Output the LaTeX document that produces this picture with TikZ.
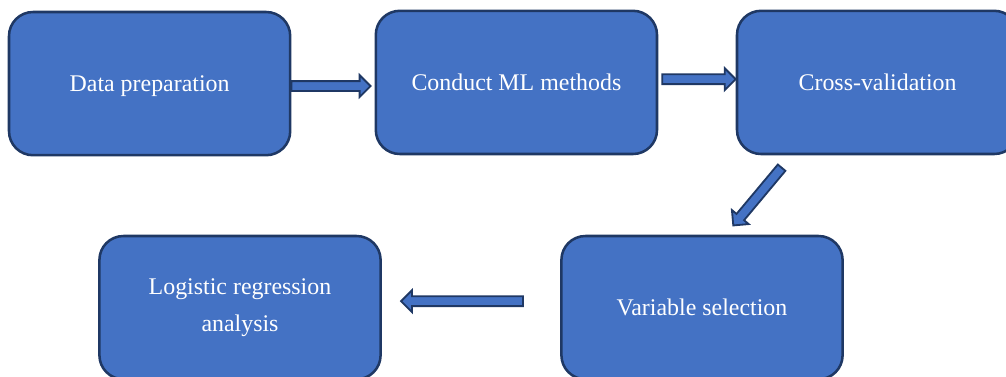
\documentclass[tikz,border=0pt]{standalone}
\usepackage{fontspec}
\setmainfont{Liberation Serif}
\usepackage{xcolor}
\usepackage{tikz}
\usetikzlibrary{arrows.meta, positioning, calc, shapes.arrows}
\definecolor{stagefill}{RGB}{68,114,196}
\definecolor{stageline}{RGB}{31,56,100}

\begin{document}
\begin{tikzpicture}[
    stage/.style={draw=stageline, line width=1.8pt, fill=stagefill,
      rounded corners=0.6cm, minimum width=7.03cm, minimum height=3.58cm,
      text=white, align=center, font=\fontsize{17}{26}\selectfont},
    blk/.style={single arrow, draw=stageline, fill=stagefill, line width=1.3pt,
      inner xsep=0pt, inner ysep=0.1cm, single arrow head extend=0.15cm,
      single arrow tip angle=90, outer sep=0pt},
    flow/.style={to path={let \p1=(\tikztostart), \p2=(\tikztotarget),
      \n1={atan2(\y2-\y1,\x2-\x1)}, \n2={veclen(\x2-\x1,\y2-\y1)} in
      node[blk, minimum height=\n2, rotate=\n1, anchor=tail] at (\p1) {}}}]
  \useasboundingbox (0,0) rectangle (25.15,-9.4);
  % top row
  \node[stage, text depth=0pt] (prep) at (3.74,-2.09) {Data preparation};
  \node[stage, text depth=0pt] (ml) at (12.91,-2.06) {Conduct ML methods};
  \node[stage, text depth=0pt] (cv) at (21.94,-2.06) {Cross-validation};
  % bottom row
  \node[stage] (logit) at (6.0,-7.69) {Logistic regression\\analysis};
  \node[stage, text depth=0pt] (varsel) at (17.55,-7.69) {Variable selection};
  \draw[flow] ([yshift=-0.06cm]prep.east) to ([shift={(-0.1,-0.09)}]ml.west);
  \draw[flow] ([shift={(0.1,0.08)}]ml.east) to ([yshift=0.08cm]cv.west);
  \draw[flow] ([shift={(-2.4,-0.31)}]cv.south) to ([shift={(0.78,0.23)}]varsel.north);
  \draw[flow] ([shift={(-0.93,0.16)}]varsel.west) to ([shift={(0.48,0.16)}]logit.east);
\end{tikzpicture}
\end{document}
